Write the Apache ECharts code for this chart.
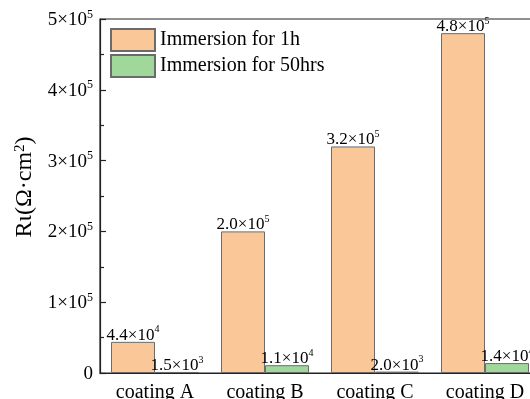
<!DOCTYPE html>
<html>
<head>
<meta charset="utf-8">
<script src="https://cdn.jsdelivr.net/npm/echarts@6/dist/echarts.min.js"></script>
<style>
  html, body { margin: 0; padding: 0; background: #fff; overflow: hidden; }
  #chart { width: 540px; height: 399px; }
</style>
</head>
<body>
<div id="chart"></div>
<script>
// Coating resistance after immersion
const categories = ['coating A', 'coating B', 'coating C', 'coating D'];
const seriesNames = ['Immersion for 1h', 'Immersion for 50hrs'];
const values1h = [4.4e4, 2.0e5, 3.2e5, 4.8e5];
const values50h = [1.5e3, 1.1e4, 2.0e3, 1.4e4];
const yTicks = [0, 1e5, 2e5, 3e5, 4e5, 5e5];

const FONT = '"Liberation Serif", "Times New Roman", serif';

// "m×10^e" with a raised exponent, as rich text
function sciLabel(v, digits) {
  if (v === 0) return '{b|0}';
  const e = Math.floor(Math.log10(Math.abs(v)));
  const m = v / Math.pow(10, e);
  const ms = digits == null ? String(Math.round(m)) : m.toFixed(digits);
  return '{b|' + ms + '×10}{s|' + e + '}';
}

function richSet(size, supSize) {
  return {
    b: { fontFamily: FONT, fontSize: size, color: '#000', lineHeight: size + 2, verticalAlign: 'bottom' },
    s: { fontFamily: FONT, fontSize: supSize, color: '#000', lineHeight: size + 2, verticalAlign: 'top' }
  };
}

const chart = echarts.init(document.getElementById('chart'), null, { renderer: 'canvas' });

const barBorder = { borderColor: '#6b6b6b', borderWidth: 1 };

chart.setOption({
  animation: false,
  backgroundColor: '#fff',
  grid: {
    left: 100, right: 0, top: 19, bottom: 26,
    outerBoundsMode: 'none',
    containLabel: false,
    show: true, borderColor: '#222', borderWidth: 1.2, backgroundColor: 'transparent'
  },
  legend: {
    orient: 'vertical',
    left: 105, top: 23,
    itemWidth: 44, itemHeight: 22, itemGap: 2,
    icon: 'rect',
    data: seriesNames,
    textStyle: { fontFamily: FONT, fontSize: 20, color: '#000' }
  },
  xAxis: {
    type: 'category',
    data: categories,
    axisLine: { lineStyle: { color: '#222', width: 1.2 } },
    axisTick: { show: false },
    axisLabel: { fontFamily: FONT, fontSize: 20, color: '#000', margin: 10 }
  },
  yAxis: {
    type: 'value',
    min: 0, max: 5e5, interval: 1e5,
    name: 'Rι(Ω·cm{s|2})',
    nameLocation: 'middle',
    nameRotate: 90,
    nameGap: 62,
    nameTextStyle: {
      fontFamily: FONT, fontSize: 24, color: '#000',
      padding: [0, 0, 0, 18],
      rich: {
        s: { fontFamily: FONT, fontSize: 15, color: '#000', verticalAlign: 'top', lineHeight: 25 }
      }
    },
    axisLine: { show: true, lineStyle: { color: '#222', width: 1.2 } },
    axisTick: { show: true, inside: true, length: 6, lineStyle: { color: '#222', width: 1.2 } },
    minorTick: { show: true, splitNumber: 2, length: 4, lineStyle: { color: '#222', width: 1.2 } },
    splitLine: { show: false },
    axisLabel: {
      margin: 7,
      formatter: function (v) { return yTicks.indexOf(v) >= 0 ? sciLabel(v) : ''; },
      rich: richSet(19, 12)
    }
  },
  series: [
    {
      name: seriesNames[0],
      type: 'bar',
      data: values1h,
      barGap: '0%',
      barCategoryGap: '20%',
      itemStyle: Object.assign({ color: '#f9c798' }, barBorder),
      label: {
        show: true, position: 'top', distance: -2,
        formatter: function (p) { return sciLabel(p.value, 1); },
        rich: richSet(17, 10)
      }
    },
    {
      name: seriesNames[1],
      type: 'bar',
      data: values50h,
      barGap: '0%',
      barCategoryGap: '20%',
      itemStyle: Object.assign({ color: '#a0d89b' }, barBorder),
      label: {
        show: true, position: 'top', distance: -2,
        formatter: function (p) { return sciLabel(p.value, 1); },
        rich: richSet(17, 10)
      }
    }
  ]
});
</script>
</body>
</html>
